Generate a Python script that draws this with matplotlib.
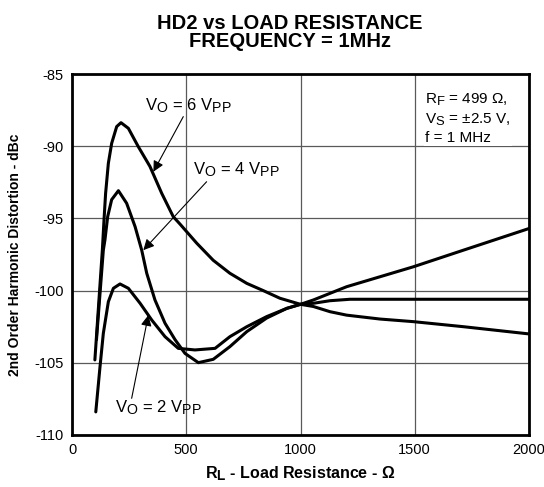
import numpy as np
import matplotlib
matplotlib.use('Agg')
import matplotlib.pyplot as plt
import matplotlib._mathtext as mt

plt.rcParams['font.family'] = ['Liberation Sans', 'DejaVu Sans']
plt.rcParams['mathtext.fontset'] = 'custom'
plt.rcParams['mathtext.rm'] = 'Liberation Sans'
plt.rcParams['mathtext.bf'] = 'Liberation Sans:bold'
plt.rcParams['mathtext.default'] = 'regular'
plt.rcParams['axes.unicode_minus'] = False
# subindices un poco mas grandes, como en la hoja de datos
mt.SHRINK_FACTOR = 0.85

# datos (R_L en ohm, HD2 en dBc)
rl_6 = [100, 132.7, 140, 147, 159, 173.5, 195.5, 214.4, 246.6, 290, 341, 392.5, 443, 473,
        546, 618, 691, 765, 837, 910, 1000, 1056, 1129, 1202, 1348, 1494, 1713, 2000]
hd2_6 = [-104.8, -97.2, -95.1, -93.26, -91.18, -89.8, -88.64, -88.37, -88.76, -90.03, -91.4, -93.26, -94.88, -95.4,
         -96.72, -97.9, -98.8, -99.5, -100.0, -100.53, -100.95, -101.1, -101.46, -101.7, -101.97, -102.15, -102.5, -103.0]

rl_4 = [107, 137, 144, 156, 173.5, 203, 239, 276, 305, 327, 363, 407, 451, 494.5, 553,
        618, 691, 765, 852, 940, 1000, 1056, 1202, 1348, 1494, 1713, 2000]
hd2_4 = [-103.4, -97.2, -96.5, -94.88, -93.7, -93.08, -93.95, -95.57, -97.2, -98.8, -100.65, -102.26, -103.4, -104.35, -104.99,
         -104.76, -103.88, -102.84, -101.9, -101.23, -100.95, -100.65, -99.73, -99.04, -98.35, -97.2, -95.7]

rl_2 = [104, 122.5, 137, 159, 181, 210, 246.6, 298, 349, 407, 465, 538, 626, 691, 765,
        852, 940, 1000, 1056, 1129, 1217, 2000]
hd2_2 = [-108.4, -105.27, -102.96, -100.77, -99.84, -99.54, -99.84, -100.88, -102.04, -103.19, -104.0, -104.11, -104.0, -103.19, -102.5,
         -101.8, -101.23, -100.95, -100.88, -100.7, -100.6, -100.6]

xticks = [0, 500, 1000, 1500, 2000]
yticks = [-110, -105, -100, -95, -90, -85]

fig = plt.figure(figsize=(5.44, 4.87), dpi=100)
ax = fig.add_axes([0.1324, 0.1068, 0.8400, 0.7412])

for x, y in [(rl_6, hd2_6), (rl_4, hd2_4), (rl_2, hd2_2)]:
    ax.plot(x, y, color='k', lw=2.2, solid_joinstyle='round', solid_capstyle='round', zorder=3)

ax.set_xlim(0, 2000)
ax.set_ylim(-110, -85)
ax.set_xticks(xticks)
ax.set_yticks(yticks)
ax.tick_params(length=0, labelsize=10.5, pad=6)
ax.grid(True, color='0.35', lw=0.9)
for s in ax.spines.values():
    s.set_linewidth(2)

ax.set_xlabel(r'$\mathbf{R_L}$ - Load Resistance - Ω', fontsize=11.5, fontweight='bold', labelpad=5)
ax.set_ylabel('2nd Order Harmonic Distortion - dBc', fontsize=10, fontweight='bold', labelpad=9)

fig.text(0.533, 0.934, 'HD2 vs LOAD RESISTANCE\nFREQUENCY = 1MHz', ha='center', va='center',
         fontsize=14.5, fontweight='bold', linespacing=0.95)

# etiquetas de cada curva con su flecha
arrow = dict(arrowstyle='-|>', color='k', lw=0.8, mutation_scale=16, shrinkA=0, shrinkB=0)
ax.text(508, -87.2, r'V$_{O}$ = 6 V$_{PP}$', fontsize=12, ha='center', va='center')
ax.annotate('', xy=(356, -91.77), xytext=(487, -87.95), arrowprops=arrow)
ax.text(721, -91.65, r'V$_{O}$ = 4 V$_{PP}$', fontsize=12, ha='center', va='center')
ax.annotate('', xy=(312, -97.2), xytext=(589, -92.46), arrowprops=arrow)
ax.text(377, -108.1, r'V$_{O}$ = 2 V$_{PP}$', fontsize=12, ha='center', va='center')
ax.annotate('', xy=(334, -101.7), xytext=(261, -107.46), arrowprops=arrow)

ax.text(1545, -86.2, 'R$_{F}$ = 499 Ω,\nV$_{S}$ = ±2.5 V,\nf = 1 MHz', fontsize=11,
        ha='left', va='top', linespacing=1.3,
        bbox=dict(facecolor='white', edgecolor='none', pad=1))

fig.savefig('out.png', dpi=100)
